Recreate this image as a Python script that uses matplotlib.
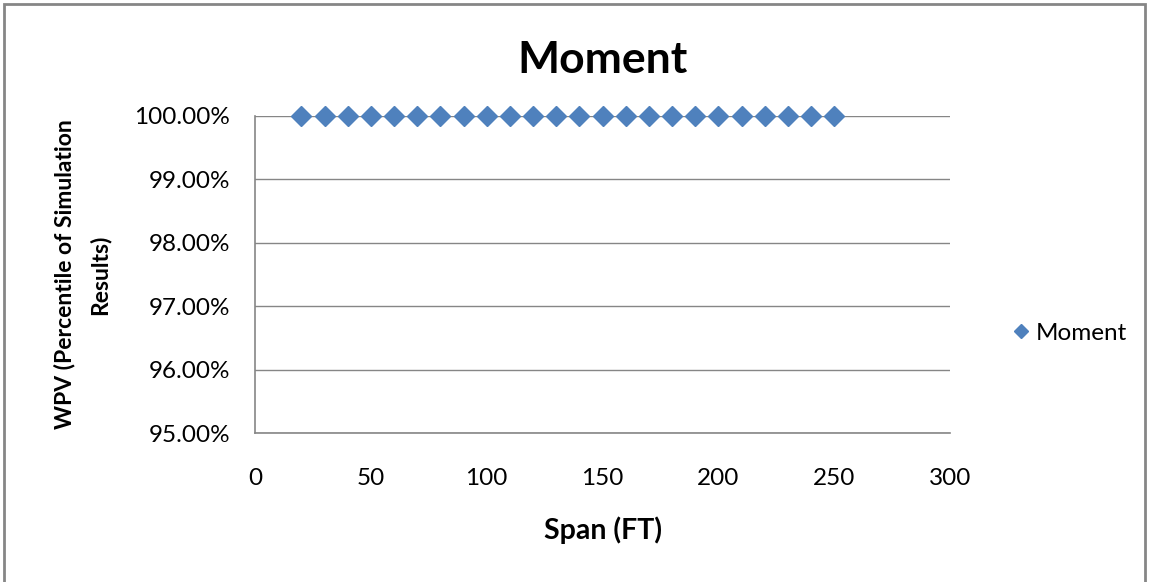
import matplotlib.pyplot as plt
from matplotlib.ticker import FuncFormatter
from matplotlib.patches import Rectangle

# data
span_ft = [20, 30, 40, 50, 60, 70, 80, 90, 100, 110, 120, 130,
           140, 150, 160, 170, 180, 190, 200, 210, 220, 230, 240, 250]
wpv = [100.0] * 24
y_ticks = [95, 96, 97, 98, 99, 100]
x_ticks = [0, 50, 100, 150, 200, 250, 300]

plt.rcParams['font.family'] = ['Lato', 'DejaVu Sans']

fig = plt.figure(figsize=(11.51, 5.82), dpi=100)
ax = fig.add_axes([255 / 1151, 1 - 433 / 582, 695 / 1151, 317 / 582])

# outer chart border
fig.patches.append(Rectangle((4 / 1151, -0.01), 1141 / 1151, 1.01 - 4 / 582,
                             transform=fig.transFigure, fill=False,
                             edgecolor='#868686', linewidth=2))

ax.plot(span_ft, wpv, linestyle='none', marker='D', markersize=10,
        color='#4F81BD', label='Moment', clip_on=False)

ax.set_xlim(0, 300)
ax.set_ylim(95, 100)
ax.set_xticks(x_ticks)
ax.set_yticks(y_ticks)
ax.yaxis.set_major_formatter(FuncFormatter(lambda v, p: f"{v:.2f}%"))
ax.tick_params(length=0, labelsize=17.5)
ax.tick_params(axis='y', pad=18)
ax.tick_params(axis='x', pad=25)
ax.grid(axis='y', color='#868686', linewidth=1)
ax.set_axisbelow(True)
for s in ['top', 'right']:
    ax.spines[s].set_visible(False)
for s in ['left', 'bottom']:
    ax.spines[s].set_color('#868686')
    ax.spines[s].set_linewidth(1.2)

ax.set_title("Moment", fontsize=32, fontweight='bold', pad=31)
ax.set_xlabel("Span (FT)", fontsize=20.5, fontweight='bold', labelpad=20)
ax.set_ylabel("WPV (Percentile of Simulation\nResults)", fontsize=16.5,
              fontweight='bold', labelpad=17, linespacing=1.75)

ax.legend(loc='center left', bbox_to_anchor=(1.053, 0.315), frameon=False,
          fontsize=17.5, handletextpad=0.1, handlelength=1.0, markerscale=0.75)

fig.savefig("out.png", dpi=100)
